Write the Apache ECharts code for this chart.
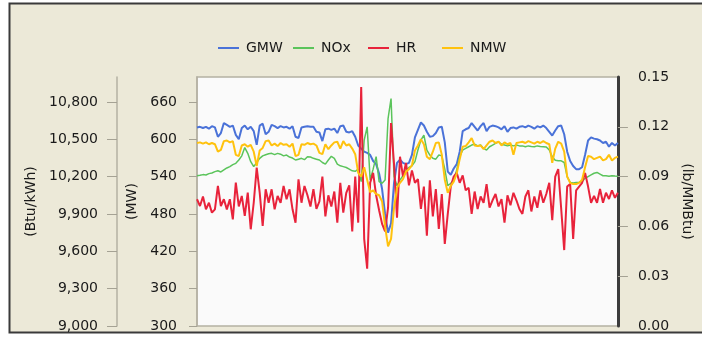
<!DOCTYPE html>
<html>
<head>
<meta charset="utf-8">
<script src="https://cdn.jsdelivr.net/npm/echarts@6/dist/echarts.min.js"></script>
<style>
  html, body { margin: 0; padding: 0; background: #fff; }
  #chart { width: 702px; height: 340px; }
</style>
</head>
<body>
<div id="chart"></div>
<script>
// sample number along the x axis (axis itself is hidden)
const samples = Array.from({ length: 142 }, (_, i) => i + 1)

// MW
const gmw = [619,620,618,620,617,621,619,604,610,626,623,620,622,607,600,618,622,616,620,613,591,622,625,608,612,623,621,618,621,619,620,617,621,604,602,619,620,
  621,620,620,612,611,597,616,617,615,617,610,621,622,612,611,613,604,590,585,580,578,575,565,560,545,520,480,450,465,530,562,567,562,560,562,575,
  603,615,627,622,612,604,605,610,619,620,595,548,543,553,560,580,613,616,618,626,620,614,621,626,613,620,622,621,619,616,621,612,618,619,617,620,
  621,619,622,620,617,621,619,622,618,612,606,614,621,622,608,580,565,557,552,552,555,575,598,603,601,600,598,594,596,588,594,590,594]
const nmw = [594,595,593,595,592,594,592,580,583,597,598,595,597,575,573,590,592,588,591,580,557,582,586,597,598,590,593,589,594,591,592,588,593,573,575,592,591,
  594,592,593,590,578,576,592,584,590,595,596,585,597,590,592,585,576,546,540,555,535,515,518,512,510,500,460,428,440,490,522,530,536,548,552,558,
  582,590,600,592,572,568,580,594,595,575,535,514,525,532,545,568,588,589,595,602,590,589,590,584,590,596,598,594,596,590,595,592,594,575,594,595,
  596,594,597,595,593,596,594,597,594,592,562,585,596,593,580,540,530,528,528,530,535,555,573,572,568,570,572,566,568,575,566,570,572]
// lb/MMBtu
const nox = [.0905,.0908,.0912,.0910,.0918,.0922,.0930,.0935,.0928,.0940,.0952,.0960,.0972,.0980,.1000,.1025,.1075,.1040,.0990,.0960,.0985,.1010,.1025,.1032,.1038,.1040,.1032,.1040,.1035,.1025,.1030,.1018,.1012,.1000,.1005,.1010,.1002,
  .1020,.1018,.1010,.1005,.1000,.0985,.0975,.1000,.1022,.1010,.0975,.0965,.0960,.0955,.0945,.0935,.0932,.0945,.0870,.1120,.1200,.0880,.0945,.1020,.0870,.0860,.0880,.1250,.1370,.0900,.0845,.0880,.0905,.0940,.0955,.0965,
  .0990,.1060,.1120,.1150,.1060,.1030,.1010,.1005,.1030,.1025,.0945,.0845,.0860,.0880,.0940,.1020,.1060,.1070,.1080,.1090,.1095,.1085,.1090,.1070,.1060,.1080,.1090,.1100,.1110,.1095,.1090,.1085,.1090,.1085,.1090,.1085,
  .1085,.1080,.1085,.1082,.1080,.1085,.1082,.1080,.1078,.1060,.1020,.0998,.0995,.0995,.0985,.0900,.0865,.0862,.0864,.0866,.0870,.0890,.0900,.0910,.0920,.0925,.0915,.0905,.0905,.0902,.0905,.0903,.0902]
// Btu/kWh
const hr = [10018,9964,10040,9937,9990,9910,9937,10125,9964,10018,9937,10018,9857,10151,9960,10045,9884,10071,9777,9990,10272,10071,9804,10098,9990,10098,9937,10045,9990,10125,10018,10098,9937,9830,10178,9990,10125,
  10050,9960,10100,9940,10000,10200,9880,10050,9960,10080,9830,10150,9910,10070,10130,9760,10200,9830,10920,9700,9460,10150,10230,10050,9930,9820,9760,9950,10630,10300,9870,10360,10200,10310,10130,10250,
  10150,10180,9940,10120,9725,10170,9880,10100,9780,10060,9660,9900,10120,10200,10230,10150,10210,10090,10110,9900,10080,9940,10040,9990,10140,9950,10010,10060,9960,10020,9830,10050,9970,10070,10010,9940,
  9900,10040,10090,9920,10040,9950,10090,9990,10060,10150,9850,10200,10260,9940,9610,10120,10140,9700,10090,10120,10150,10230,10120,9990,10045,9990,10100,9990,10070,10020,10090,10030,10070]

const seriesNames = ['GMW', 'NOx', 'HR', 'NMW']
const mwTicks = [300, 360, 420, 480, 540, 600, 660]
const hrTicks = [9000, 9300, 9600, 9900, 10200, 10500, 10800]
const noxTicks = [0, 0.03, 0.06, 0.09, 0.12, 0.15]

const font = 'DejaVu Sans'
const labelStyle = { fontFamily: font, fontSize: 14, color: '#1a1a1a' }

// one legend per item so the items sit on a fixed 75px pitch like the original
const legendLeft = [213, 288, 363, 437]
const legends = seriesNames.map((name, i) => ({
  left: legendLeft[i],
  top: 36,
  icon: 'rect',
  itemWidth: 21,
  itemHeight: 2,
  itemGap: 0,
  textStyle: { fontFamily: font, fontSize: 14, color: '#1a1a1a', padding: [0, 0, 0, 2] },
  data: [name]
}))

const chart = echarts.init(document.getElementById('chart'))

chart.setOption({
  backgroundColor: '#fff',
  animation: false,
  graphic: [{
    type: 'rect',
    z: -10,
    shape: { x: 9.5, y: 3.5, width: 700, height: 329 },
    style: { fill: '#ECE9D8', stroke: '#3a3a3a', lineWidth: 2 }
  }],
  legend: legends,
  grid: {
    left: 197, right: 80, top: 77, bottom: 14,
    show: true,
    backgroundColor: '#FAFAFA',
    borderColor: '#B4B1A3',
    borderWidth: 1.5
  },
  xAxis: {
    type: 'category',
    data: samples,
    boundaryGap: false,
    show: false
  },
  yAxis: [{
    // MW
    type: 'value', position: 'left', offset: 0,
    min: 300, max: 700, interval: 60,
    name: '(MW)', nameLocation: 'middle', nameGap: 57,
    nameTextStyle: labelStyle,
    axisLine: { show: true, lineStyle: { color: '#B4B1A3', width: 1.5 } },
    axisTick: { show: true, length: 8, lineStyle: { color: '#A5A294' }, customValues: mwTicks },
    axisLabel: { ...labelStyle, margin: 20, customValues: mwTicks },
    splitLine: { show: false }
  }, {
    // Btu/kWh
    type: 'value', position: 'left', offset: 80,
    min: 9000, max: 11000, interval: 300,
    name: '(Btu/kWh)', nameLocation: 'middle', nameGap: 77,
    nameTextStyle: labelStyle,
    axisLine: { show: true, lineStyle: { color: '#B4B1A3', width: 1.5 } },
    axisTick: { show: true, length: 10, lineStyle: { color: '#A5A294' }, customValues: hrTicks },
    axisLabel: { ...labelStyle, margin: 19, customValues: hrTicks, formatter: v => v.toLocaleString('en-US') },
    splitLine: { show: false }
  }, {
    // lb/MMBtu
    type: 'value', position: 'right',
    min: 0, max: 0.15, interval: 0.03,
    name: '(lb/MMBtu)', nameLocation: 'middle', nameGap: 60, nameRotate: -90,
    nameTextStyle: labelStyle,
    axisLine: { show: true, lineStyle: { color: '#3c3c3c', width: 3 } },
    axisTick: { show: true, length: 10, lineStyle: { color: '#A5A294' }, customValues: [0.03, 0.06, 0.09, 0.12] },
    axisLabel: { ...labelStyle, margin: 20, customValues: noxTicks, formatter: v => v.toFixed(2) },
    splitLine: { show: false }
  }],
  series: [
    { name: 'GMW', type: 'line', yAxisIndex: 0, data: gmw, showSymbol: false, color: '#4A72D8', lineStyle: { width: 2 } },
    { name: 'NOx', type: 'line', yAxisIndex: 2, data: nox, showSymbol: false, color: '#5BC45B', lineStyle: { width: 1.5 } },
    { name: 'HR', type: 'line', yAxisIndex: 1, data: hr, showSymbol: false, color: '#E8233B', lineStyle: { width: 2 } },
    { name: 'NMW', type: 'line', yAxisIndex: 0, data: nmw, showSymbol: false, color: '#FFC20E', lineStyle: { width: 2 } }
  ]
})
</script>
</body>
</html>
